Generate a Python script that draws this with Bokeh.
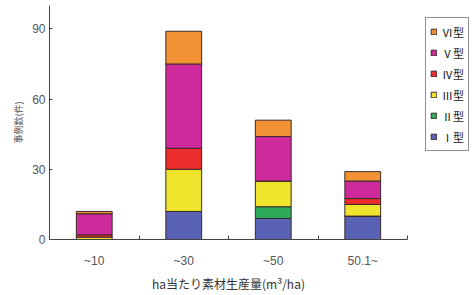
from bokeh.plotting import figure
from bokeh.models import (ColumnDataSource, Range1d, FixedTicker, Legend, LegendItem)
from bokeh.embed import file_html
from bokeh.resources import INLINE

categories = ["~10", "~30", "~50", "50.1~"]
types = ["Ⅰ型", "Ⅱ型", "Ⅲ型", "Ⅳ型", "Ⅴ型", "Ⅵ型"]
type_I = [0, 12, 9, 10]
type_II = [0, 0, 5, 0]
type_III = [1, 18, 11, 5]
type_IV = [1, 9, 0, 2.5]
type_V = [9, 36, 19, 7.5]
type_VI = [1, 14, 7, 4]
colors = ["#5a62b5", "#2daa5a", "#f0e42c", "#ec2c2c", "#cf2a9c", "#f39234"]
y_ticks = [0, 30, 60, 90]

keys = ["t1", "t2", "t3", "t4", "t5", "t6"]
xs = [i + 0.5 for i in range(len(categories))]
source = ColumnDataSource(dict(x=xs, t1=type_I, t2=type_II, t3=type_III,
                               t4=type_IV, t5=type_V, t6=type_VI))

p = figure(output_backend="svg", toolbar_location=None,
           frame_width=358, frame_height=234,
           min_border_left=49, min_border_top=5, min_border_bottom=48,
           min_border_right=0,
           x_range=Range1d(0, len(categories)), y_range=Range1d(0, 100))
p.outline_line_color = None
p.xgrid.visible = False
p.ygrid.visible = False

renderers = p.vbar_stack(keys, x="x", width=0.4, source=source,
                         fill_color=colors, line_color="#3a2a2a", line_width=1)

# axes
p.xaxis.ticker = FixedTicker(ticks=xs, minor_ticks=[1, 2, 3, 4])
p.xaxis.major_label_overrides = {x: c for x, c in zip(xs, categories)}
p.xaxis.major_tick_line_color = None
p.xaxis.minor_tick_in = 4
p.xaxis.minor_tick_out = 0
p.xaxis.minor_tick_line_color = "#444444"
p.xaxis.axis_line_color = "#444444"
p.xaxis.major_label_text_font = "Liberation Sans"
p.xaxis.major_label_text_font_size = "12px"
p.xaxis.major_label_text_color = "#555555"
p.xaxis.major_label_standoff = 8
p.xaxis.axis_label = "ha当たり素材生産量(m³/ha)"
p.xaxis.axis_label_text_font = "Noto Sans CJK JP"
p.xaxis.axis_label_text_font_style = "normal"
p.xaxis.axis_label_text_font_size = "12px"
p.xaxis.axis_label_text_color = "#333333"
p.xaxis.axis_label_standoff = 4

p.yaxis.ticker = FixedTicker(ticks=y_ticks)
p.yaxis.major_tick_in = 3
p.yaxis.major_tick_out = 0
p.yaxis.minor_tick_line_color = None
p.yaxis.major_tick_line_color = "#444444"
p.yaxis.axis_line_color = "#444444"
p.yaxis.major_label_text_font = "Liberation Sans"
p.yaxis.major_label_text_font_size = "12px"
p.yaxis.major_label_text_color = "#555555"
p.yaxis.major_label_standoff = 4
p.yaxis.axis_label = "事例数(件)"
p.yaxis.axis_label_text_font = "Noto Sans CJK JP"
p.yaxis.axis_label_text_font_style = "normal"
p.yaxis.axis_label_text_font_size = "9px"
p.yaxis.axis_label_text_color = "#555555"
p.yaxis.axis_label_standoff = 4

items = [LegendItem(label=t, renderers=[r]) for t, r in zip(types, renderers)][::-1]
legend = Legend(items=items, location=(18, 88),
                label_text_font="Noto Sans CJK JP", label_text_font_size="11px",
                label_text_color="#222222",
                glyph_width=7, glyph_height=7, label_height=19, label_standoff=5,
                spacing=2, padding=4, margin=0,
                border_line_color="#222222", border_line_width=1,
                background_fill_color="white", background_fill_alpha=1)
p.add_layout(legend, "right")

open("out.html", "w").write(file_html(p, INLINE))
